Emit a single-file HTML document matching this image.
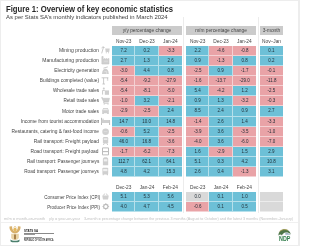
<!DOCTYPE html>
<html><head><meta charset="utf-8">
<style>
html,body{margin:0;padding:0;}
body{will-change:transform;width:300px;height:246px;overflow:hidden;background:#fff;position:relative;font-family:"Liberation Sans",sans-serif;color:#3a3a3a;}
.a{position:absolute;}
.t{position:absolute;white-space:nowrap;line-height:1;transform-origin:0 0;}
.c{position:absolute;box-sizing:border-box;}
.n{position:absolute;white-space:nowrap;line-height:1;font-size:4.9px;color:#1e2a33;text-align:center;transform:scaleX(.92);}
.lbl{position:absolute;white-space:nowrap;font-size:5.3px;line-height:1;color:#444;transform-origin:100% 0;}
.hd{position:absolute;font-size:4.8px;line-height:1;color:#444;text-align:center;white-space:nowrap;}
</style></head><body>

<div class="a" style="left:0;top:0;width:297px;height:244px;border:1px solid #ededed;border-right-width:2px;"></div>
<div class="t" style="left:6.4px;top:5.66px;font-size:8.2px;font-weight:bold;color:#262626;transform:scaleX(0.9408);">Figure 1: Overview of key economic statistics</div>
<div class="t" style="left:6.4px;top:14.32px;font-size:6.0px;color:#404040;transform:scaleX(0.9903);">As per Stats SA’s monthly indicators published in March 2024</div>
<div class="a" style="left:183px;top:17px;width:1px;height:196px;background:#ececec;"></div>
<div class="a" style="left:258px;top:17px;width:1px;height:196px;background:#ececec;"></div>
<div class="a" style="left:112.0px;top:25.5px;width:69.99px;height:9.3px;background:#cbcbcb;"></div>
<div class="hd" style="left:112.0px;top:29.44px;width:69.99px;">y/y percentage change</div>
<div class="a" style="left:186.0px;top:25.5px;width:69.99px;height:9.3px;background:#cbcbcb;"></div>
<div class="hd" style="left:186.0px;top:29.44px;width:69.99px;">m/m percentage change</div>
<div class="a" style="left:260.0px;top:25.5px;width:23.00px;height:9.3px;background:#cbcbcb;"></div>
<div class="hd" style="left:260.0px;top:29.44px;width:23.00px;">3-month</div>
<div class="hd" style="left:112.00px;top:39.74px;width:23.33px;">Nov-23</div>
<div class="hd" style="left:186.00px;top:39.74px;width:23.33px;">Nov-23</div>
<div class="hd" style="left:135.33px;top:39.74px;width:23.33px;">Dec-23</div>
<div class="hd" style="left:209.33px;top:39.74px;width:23.33px;">Dec-23</div>
<div class="hd" style="left:158.66px;top:39.74px;width:23.33px;">Jan-24</div>
<div class="hd" style="left:232.66px;top:39.74px;width:23.33px;">Jan-24</div>
<div class="hd" style="left:260.0px;top:39.74px;width:23.0px;">Nov–Jan</div>
<div class="lbl" style="right:201.20px;top:47.71px;font-size:5.3px;transform:scaleX(0.9514);">Mining production</div>
<svg class="a" style="left:101px;top:46px" width="10" height="10" viewBox="0 0 10 10" stroke="#bcbcbc" stroke-width=".8" stroke-linejoin="round"><path d="M0.7 7.4 L2.5 1.0" fill="none"/><path d="M0.6 1.9 Q1.9 -0.1 3.6 1.5" fill="none"/><path d="M4.2 2.6 H8.7 L8.2 6 H4.7 Z" fill="#cfcfcf" stroke="none"/><circle cx="5.3" cy="6.7" r=".55" fill="#c0c0c0" stroke="none"/><circle cx="7.6" cy="6.7" r=".55" fill="#c0c0c0" stroke="none"/></svg>
<div class="c" style="left:112.00px;top:46.00px;width:23.33px;height:10.00px;background:#6dc0d7;border-bottom:1px solid rgba(255,255,255,.5);border-right:1px solid rgba(255,255,255,.5);"></div>
<div class="n" style="left:112.00px;top:48.90px;width:23.33px;">7.2</div>
<div class="c" style="left:135.33px;top:46.00px;width:23.33px;height:10.00px;background:#6dc0d7;border-bottom:1px solid rgba(255,255,255,.5);border-right:1px solid rgba(255,255,255,.5);"></div>
<div class="n" style="left:135.33px;top:48.90px;width:23.33px;">0.2</div>
<div class="c" style="left:158.66px;top:46.00px;width:23.33px;height:10.00px;background:#e9a3a7;border-bottom:1px solid rgba(255,255,255,.5);"></div>
<div class="n" style="left:158.66px;top:48.90px;width:23.33px;">-3.3</div>
<div class="c" style="left:186.00px;top:46.00px;width:23.33px;height:10.00px;background:#6dc0d7;border-bottom:1px solid rgba(255,255,255,.5);border-right:1px solid rgba(255,255,255,.5);"></div>
<div class="n" style="left:186.00px;top:48.90px;width:23.33px;">2.2</div>
<div class="c" style="left:209.33px;top:46.00px;width:23.33px;height:10.00px;background:#e9a3a7;border-bottom:1px solid rgba(255,255,255,.5);border-right:1px solid rgba(255,255,255,.5);"></div>
<div class="n" style="left:209.33px;top:48.90px;width:23.33px;">-4.6</div>
<div class="c" style="left:232.66px;top:46.00px;width:23.33px;height:10.00px;background:#e9a3a7;border-bottom:1px solid rgba(255,255,255,.5);"></div>
<div class="n" style="left:232.66px;top:48.90px;width:23.33px;">-0.8</div>
<div class="c" style="left:260.00px;top:46.00px;width:23.00px;height:10.00px;background:#6dc0d7;border-bottom:1px solid rgba(255,255,255,.5);"></div>
<div class="n" style="left:260.00px;top:48.90px;width:23.00px;">0.1</div>
<div class="lbl" style="right:201.20px;top:57.85px;font-size:5.3px;transform:scaleX(0.9448);">Manufacturing production</div>
<svg class="a" style="left:101px;top:56px" width="10" height="10" viewBox="0 0 10 10" stroke="#bcbcbc" stroke-width=".8" stroke-linejoin="round"><path d="M0.9 8 V0.5 H2.1 V3.6 L4 2.4 V3.6 L5.9 2.4 V3.6 L7.9 2.4 V8 Z" fill="#d0d0d0" stroke="#c2c2c2" stroke-width=".6"/><path d="M3 5.2 H7" stroke="#e6e6e6" stroke-width=".6"/></svg>
<div class="c" style="left:112.00px;top:56.00px;width:23.33px;height:10.00px;background:#6dc0d7;border-bottom:1px solid rgba(255,255,255,.5);border-right:1px solid rgba(255,255,255,.5);"></div>
<div class="n" style="left:112.00px;top:58.90px;width:23.33px;">2.7</div>
<div class="c" style="left:135.33px;top:56.00px;width:23.33px;height:10.00px;background:#6dc0d7;border-bottom:1px solid rgba(255,255,255,.5);border-right:1px solid rgba(255,255,255,.5);"></div>
<div class="n" style="left:135.33px;top:58.90px;width:23.33px;">1.3</div>
<div class="c" style="left:158.66px;top:56.00px;width:23.33px;height:10.00px;background:#6dc0d7;border-bottom:1px solid rgba(255,255,255,.5);"></div>
<div class="n" style="left:158.66px;top:58.90px;width:23.33px;">2.6</div>
<div class="c" style="left:186.00px;top:56.00px;width:23.33px;height:10.00px;background:#6dc0d7;border-bottom:1px solid rgba(255,255,255,.5);border-right:1px solid rgba(255,255,255,.5);"></div>
<div class="n" style="left:186.00px;top:58.90px;width:23.33px;">0.9</div>
<div class="c" style="left:209.33px;top:56.00px;width:23.33px;height:10.00px;background:#e9a3a7;border-bottom:1px solid rgba(255,255,255,.5);border-right:1px solid rgba(255,255,255,.5);"></div>
<div class="n" style="left:209.33px;top:58.90px;width:23.33px;">-1.3</div>
<div class="c" style="left:232.66px;top:56.00px;width:23.33px;height:10.00px;background:#6dc0d7;border-bottom:1px solid rgba(255,255,255,.5);"></div>
<div class="n" style="left:232.66px;top:58.90px;width:23.33px;">0.8</div>
<div class="c" style="left:260.00px;top:56.00px;width:23.00px;height:10.00px;background:#6dc0d7;border-bottom:1px solid rgba(255,255,255,.5);"></div>
<div class="n" style="left:260.00px;top:58.90px;width:23.00px;">0.2</div>
<div class="lbl" style="right:201.20px;top:67.99px;font-size:5.3px;transform:scaleX(0.9127);">Electricity generation</div>
<svg class="a" style="left:101px;top:66px" width="10" height="10" viewBox="0 0 10 10" stroke="#bcbcbc" stroke-width=".8" stroke-linejoin="round"><path d="M1 8 C1.2 4.4 2.6 2.8 4.4 2.8 C6.2 2.8 7.6 4.4 7.8 8 Z" fill="#cfcfcf" stroke="none"/><path d="M2.4 2.2 L6.8 0.9" fill="none"/><path d="M3.4 5.6 H5.6 V8" stroke="#e8e8e8" stroke-width=".7" fill="none"/></svg>
<div class="c" style="left:112.00px;top:66.00px;width:23.33px;height:10.00px;background:#e9a3a7;border-bottom:1px solid rgba(255,255,255,.5);border-right:1px solid rgba(255,255,255,.5);"></div>
<div class="n" style="left:112.00px;top:68.90px;width:23.33px;">-3.0</div>
<div class="c" style="left:135.33px;top:66.00px;width:23.33px;height:10.00px;background:#6dc0d7;border-bottom:1px solid rgba(255,255,255,.5);border-right:1px solid rgba(255,255,255,.5);"></div>
<div class="n" style="left:135.33px;top:68.90px;width:23.33px;">4.4</div>
<div class="c" style="left:158.66px;top:66.00px;width:23.33px;height:10.00px;background:#6dc0d7;border-bottom:1px solid rgba(255,255,255,.5);"></div>
<div class="n" style="left:158.66px;top:68.90px;width:23.33px;">0.8</div>
<div class="c" style="left:186.00px;top:66.00px;width:23.33px;height:10.00px;background:#e9a3a7;border-bottom:1px solid rgba(255,255,255,.5);border-right:1px solid rgba(255,255,255,.5);"></div>
<div class="n" style="left:186.00px;top:68.90px;width:23.33px;">-2.5</div>
<div class="c" style="left:209.33px;top:66.00px;width:23.33px;height:10.00px;background:#6dc0d7;border-bottom:1px solid rgba(255,255,255,.5);border-right:1px solid rgba(255,255,255,.5);"></div>
<div class="n" style="left:209.33px;top:68.90px;width:23.33px;">0.9</div>
<div class="c" style="left:232.66px;top:66.00px;width:23.33px;height:10.00px;background:#e9a3a7;border-bottom:1px solid rgba(255,255,255,.5);"></div>
<div class="n" style="left:232.66px;top:68.90px;width:23.33px;">-1.7</div>
<div class="c" style="left:260.00px;top:66.00px;width:23.00px;height:10.00px;background:#e9a3a7;border-bottom:1px solid rgba(255,255,255,.5);"></div>
<div class="n" style="left:260.00px;top:68.90px;width:23.00px;">-0.1</div>
<div class="lbl" style="right:201.20px;top:78.13px;font-size:5.3px;transform:scaleX(0.9109);">Buildings completed (value)</div>
<svg class="a" style="left:101px;top:76px" width="10" height="10" viewBox="0 0 10 10" stroke="#bcbcbc" stroke-width=".8" stroke-linejoin="round"><path d="M0.6 1.8 H7.4 M2.6 1.8 V8 M6.6 1.8 V3.4 M1.4 8 H4" fill="none" stroke-width=".8"/><rect x="5.9" y="3.4" width="1.4" height="1.2" fill="#cfcfcf" stroke="none"/></svg>
<div class="c" style="left:112.00px;top:76.00px;width:23.33px;height:10.00px;background:#e9a3a7;border-bottom:1px solid rgba(255,255,255,.5);border-right:1px solid rgba(255,255,255,.5);"></div>
<div class="n" style="left:112.00px;top:78.90px;width:23.33px;">-5.4</div>
<div class="c" style="left:135.33px;top:76.00px;width:23.33px;height:10.00px;background:#e9a3a7;border-bottom:1px solid rgba(255,255,255,.5);border-right:1px solid rgba(255,255,255,.5);"></div>
<div class="n" style="left:135.33px;top:78.90px;width:23.33px;">-9.2</div>
<div class="c" style="left:158.66px;top:76.00px;width:23.33px;height:10.00px;background:#e9a3a7;border-bottom:1px solid rgba(255,255,255,.5);"></div>
<div class="n" style="left:158.66px;top:78.90px;width:23.33px;">-27.9</div>
<div class="c" style="left:186.00px;top:76.00px;width:23.33px;height:10.00px;background:#e9a3a7;border-bottom:1px solid rgba(255,255,255,.5);border-right:1px solid rgba(255,255,255,.5);"></div>
<div class="n" style="left:186.00px;top:78.90px;width:23.33px;">-1.6</div>
<div class="c" style="left:209.33px;top:76.00px;width:23.33px;height:10.00px;background:#e9a3a7;border-bottom:1px solid rgba(255,255,255,.5);border-right:1px solid rgba(255,255,255,.5);"></div>
<div class="n" style="left:209.33px;top:78.90px;width:23.33px;">-13.7</div>
<div class="c" style="left:232.66px;top:76.00px;width:23.33px;height:10.00px;background:#e9a3a7;border-bottom:1px solid rgba(255,255,255,.5);"></div>
<div class="n" style="left:232.66px;top:78.90px;width:23.33px;">-29.0</div>
<div class="c" style="left:260.00px;top:76.00px;width:23.00px;height:10.00px;background:#e9a3a7;border-bottom:1px solid rgba(255,255,255,.5);"></div>
<div class="n" style="left:260.00px;top:78.90px;width:23.00px;">-11.8</div>
<div class="lbl" style="right:201.20px;top:88.27px;font-size:5.3px;transform:scaleX(0.8861);">Wholesale trade sales</div>
<svg class="a" style="left:101px;top:86px" width="10" height="10" viewBox="0 0 10 10" stroke="#bcbcbc" stroke-width=".8" stroke-linejoin="round"><circle cx="2.8" cy="2.4" r="1" fill="#cccccc" stroke="none"/><path d="M1.6 8.6 V4.4 H3.8" fill="none"/><rect x="3.8" y="4.4" width="4.2" height="4.4" fill="#cfcfcf" stroke="none"/></svg>
<div class="c" style="left:112.00px;top:86.00px;width:23.33px;height:10.00px;background:#e9a3a7;border-bottom:1px solid rgba(255,255,255,.5);border-right:1px solid rgba(255,255,255,.5);"></div>
<div class="n" style="left:112.00px;top:88.90px;width:23.33px;">-5.4</div>
<div class="c" style="left:135.33px;top:86.00px;width:23.33px;height:10.00px;background:#e9a3a7;border-bottom:1px solid rgba(255,255,255,.5);border-right:1px solid rgba(255,255,255,.5);"></div>
<div class="n" style="left:135.33px;top:88.90px;width:23.33px;">-8.1</div>
<div class="c" style="left:158.66px;top:86.00px;width:23.33px;height:10.00px;background:#e9a3a7;border-bottom:1px solid rgba(255,255,255,.5);"></div>
<div class="n" style="left:158.66px;top:88.90px;width:23.33px;">-5.0</div>
<div class="c" style="left:186.00px;top:86.00px;width:23.33px;height:10.00px;background:#6dc0d7;border-bottom:1px solid rgba(255,255,255,.5);border-right:1px solid rgba(255,255,255,.5);"></div>
<div class="n" style="left:186.00px;top:88.90px;width:23.33px;">5.4</div>
<div class="c" style="left:209.33px;top:86.00px;width:23.33px;height:10.00px;background:#e9a3a7;border-bottom:1px solid rgba(255,255,255,.5);border-right:1px solid rgba(255,255,255,.5);"></div>
<div class="n" style="left:209.33px;top:88.90px;width:23.33px;">-4.2</div>
<div class="c" style="left:232.66px;top:86.00px;width:23.33px;height:10.00px;background:#6dc0d7;border-bottom:1px solid rgba(255,255,255,.5);"></div>
<div class="n" style="left:232.66px;top:88.90px;width:23.33px;">1.2</div>
<div class="c" style="left:260.00px;top:86.00px;width:23.00px;height:10.00px;background:#e9a3a7;border-bottom:1px solid rgba(255,255,255,.5);"></div>
<div class="n" style="left:260.00px;top:88.90px;width:23.00px;">-2.5</div>
<div class="lbl" style="right:201.20px;top:98.41px;font-size:5.3px;transform:scaleX(0.8670);">Retail trade sales</div>
<svg class="a" style="left:101px;top:96px" width="10" height="10" viewBox="0 0 10 10" stroke="#bcbcbc" stroke-width=".8" stroke-linejoin="round"><path d="M0.5 1.6 H1.5 L2.1 2.3 H8.5 L7.6 5.9 H2.8 Z" fill="#cfcfcf" stroke="#c2c2c2" stroke-width=".5"/><path d="M2.8 5.9 L2.8 7.2 H7.6" fill="none"/><circle cx="3.2" cy="8" r=".6" fill="#c0c0c0" stroke="none"/><circle cx="7" cy="8" r=".6" fill="#c0c0c0" stroke="none"/></svg>
<div class="c" style="left:112.00px;top:96.00px;width:23.33px;height:10.00px;background:#e9a3a7;border-bottom:1px solid rgba(255,255,255,.5);border-right:1px solid rgba(255,255,255,.5);"></div>
<div class="n" style="left:112.00px;top:98.90px;width:23.33px;">-1.0</div>
<div class="c" style="left:135.33px;top:96.00px;width:23.33px;height:10.00px;background:#6dc0d7;border-bottom:1px solid rgba(255,255,255,.5);border-right:1px solid rgba(255,255,255,.5);"></div>
<div class="n" style="left:135.33px;top:98.90px;width:23.33px;">3.2</div>
<div class="c" style="left:158.66px;top:96.00px;width:23.33px;height:10.00px;background:#e9a3a7;border-bottom:1px solid rgba(255,255,255,.5);"></div>
<div class="n" style="left:158.66px;top:98.90px;width:23.33px;">-2.1</div>
<div class="c" style="left:186.00px;top:96.00px;width:23.33px;height:10.00px;background:#6dc0d7;border-bottom:1px solid rgba(255,255,255,.5);border-right:1px solid rgba(255,255,255,.5);"></div>
<div class="n" style="left:186.00px;top:98.90px;width:23.33px;">0.9</div>
<div class="c" style="left:209.33px;top:96.00px;width:23.33px;height:10.00px;background:#6dc0d7;border-bottom:1px solid rgba(255,255,255,.5);border-right:1px solid rgba(255,255,255,.5);"></div>
<div class="n" style="left:209.33px;top:98.90px;width:23.33px;">1.3</div>
<div class="c" style="left:232.66px;top:96.00px;width:23.33px;height:10.00px;background:#e9a3a7;border-bottom:1px solid rgba(255,255,255,.5);"></div>
<div class="n" style="left:232.66px;top:98.90px;width:23.33px;">-3.2</div>
<div class="c" style="left:260.00px;top:96.00px;width:23.00px;height:10.00px;background:#e9a3a7;border-bottom:1px solid rgba(255,255,255,.5);"></div>
<div class="n" style="left:260.00px;top:98.90px;width:23.00px;">-0.3</div>
<div class="lbl" style="right:201.20px;top:108.55px;font-size:5.3px;transform:scaleX(0.9037);">Motor trade sales</div>
<svg class="a" style="left:101px;top:106px" width="10" height="10" viewBox="0 0 10 10" stroke="#bcbcbc" stroke-width=".8" stroke-linejoin="round"><path d="M1.2 7.2 V4.6 L2.2 2 H6.8 L7.8 4.6 V7.2 Z" fill="#cfcfcf" stroke="none"/><path d="M2.6 2.8 H6.4 L7 4.2 H2 Z" fill="#ececec" stroke="none"/><rect x="1.4" y="7" width="1.3" height="1" fill="#c4c4c4" stroke="none"/><rect x="6.3" y="7" width="1.3" height="1" fill="#c4c4c4" stroke="none"/></svg>
<div class="c" style="left:112.00px;top:106.00px;width:23.33px;height:11.00px;background:#e9a3a7;border-bottom:1px solid rgba(255,255,255,.5);border-right:1px solid rgba(255,255,255,.5);"></div>
<div class="n" style="left:112.00px;top:108.90px;width:23.33px;">-2.9</div>
<div class="c" style="left:135.33px;top:106.00px;width:23.33px;height:11.00px;background:#e9a3a7;border-bottom:1px solid rgba(255,255,255,.5);border-right:1px solid rgba(255,255,255,.5);"></div>
<div class="n" style="left:135.33px;top:108.90px;width:23.33px;">-2.5</div>
<div class="c" style="left:158.66px;top:106.00px;width:23.33px;height:11.00px;background:#6dc0d7;border-bottom:1px solid rgba(255,255,255,.5);"></div>
<div class="n" style="left:158.66px;top:108.90px;width:23.33px;">2.4</div>
<div class="c" style="left:186.00px;top:106.00px;width:23.33px;height:11.00px;background:#6dc0d7;border-bottom:1px solid rgba(255,255,255,.5);border-right:1px solid rgba(255,255,255,.5);"></div>
<div class="n" style="left:186.00px;top:108.90px;width:23.33px;">8.5</div>
<div class="c" style="left:209.33px;top:106.00px;width:23.33px;height:11.00px;background:#6dc0d7;border-bottom:1px solid rgba(255,255,255,.5);border-right:1px solid rgba(255,255,255,.5);"></div>
<div class="n" style="left:209.33px;top:108.90px;width:23.33px;">2.4</div>
<div class="c" style="left:232.66px;top:106.00px;width:23.33px;height:11.00px;background:#6dc0d7;border-bottom:1px solid rgba(255,255,255,.5);"></div>
<div class="n" style="left:232.66px;top:108.90px;width:23.33px;">0.9</div>
<div class="c" style="left:260.00px;top:106.00px;width:23.00px;height:11.00px;background:#6dc0d7;border-bottom:1px solid rgba(255,255,255,.5);"></div>
<div class="n" style="left:260.00px;top:108.90px;width:23.00px;">2.7</div>
<div class="lbl" style="right:201.20px;top:118.69px;font-size:5.3px;transform:scaleX(0.9331);">Income from tourist accommodation</div>
<svg class="a" style="left:101px;top:117px" width="10" height="10" viewBox="0 0 10 10" stroke="#bcbcbc" stroke-width=".8" stroke-linejoin="round"><path d="M0.5 0.8 V8 M8.6 3 V8" fill="none" stroke-width="1"/><rect x="0.5" y="3" width="8.1" height="3" fill="#cfcfcf" stroke="none"/><circle cx="2" cy="2.2" r=".8" fill="#cccccc" stroke="none"/></svg>
<div class="c" style="left:112.00px;top:117.00px;width:23.33px;height:10.00px;background:#6dc0d7;border-bottom:1px solid rgba(255,255,255,.5);border-right:1px solid rgba(255,255,255,.5);"></div>
<div class="n" style="left:112.00px;top:119.90px;width:23.33px;">14.7</div>
<div class="c" style="left:135.33px;top:117.00px;width:23.33px;height:10.00px;background:#6dc0d7;border-bottom:1px solid rgba(255,255,255,.5);border-right:1px solid rgba(255,255,255,.5);"></div>
<div class="n" style="left:135.33px;top:119.90px;width:23.33px;">10.0</div>
<div class="c" style="left:158.66px;top:117.00px;width:23.33px;height:10.00px;background:#6dc0d7;border-bottom:1px solid rgba(255,255,255,.5);"></div>
<div class="n" style="left:158.66px;top:119.90px;width:23.33px;">14.8</div>
<div class="c" style="left:186.00px;top:117.00px;width:23.33px;height:10.00px;background:#e9a3a7;border-bottom:1px solid rgba(255,255,255,.5);border-right:1px solid rgba(255,255,255,.5);"></div>
<div class="n" style="left:186.00px;top:119.90px;width:23.33px;">-1.4</div>
<div class="c" style="left:209.33px;top:117.00px;width:23.33px;height:10.00px;background:#6dc0d7;border-bottom:1px solid rgba(255,255,255,.5);border-right:1px solid rgba(255,255,255,.5);"></div>
<div class="n" style="left:209.33px;top:119.90px;width:23.33px;">2.6</div>
<div class="c" style="left:232.66px;top:117.00px;width:23.33px;height:10.00px;background:#6dc0d7;border-bottom:1px solid rgba(255,255,255,.5);"></div>
<div class="n" style="left:232.66px;top:119.90px;width:23.33px;">1.4</div>
<div class="c" style="left:260.00px;top:117.00px;width:23.00px;height:10.00px;background:#e9a3a7;border-bottom:1px solid rgba(255,255,255,.5);"></div>
<div class="n" style="left:260.00px;top:119.90px;width:23.00px;">-3.3</div>
<div class="lbl" style="right:201.20px;top:128.83px;font-size:5.3px;transform:scaleX(0.9112);">Restaurants, catering &amp; fast-food income</div>
<svg class="a" style="left:101px;top:127px" width="10" height="10" viewBox="0 0 10 10" stroke="#bcbcbc" stroke-width=".8" stroke-linejoin="round"><circle cx="4.6" cy="4.7" r="3.3" fill="#d0d0d0" stroke="none"/><path d="M2.8 4.6 H6.4" stroke="#e4e4e4" stroke-width=".6"/></svg>
<div class="c" style="left:112.00px;top:127.00px;width:23.33px;height:10.00px;background:#e9a3a7;border-bottom:1px solid rgba(255,255,255,.5);border-right:1px solid rgba(255,255,255,.5);"></div>
<div class="n" style="left:112.00px;top:129.90px;width:23.33px;">-0.6</div>
<div class="c" style="left:135.33px;top:127.00px;width:23.33px;height:10.00px;background:#6dc0d7;border-bottom:1px solid rgba(255,255,255,.5);border-right:1px solid rgba(255,255,255,.5);"></div>
<div class="n" style="left:135.33px;top:129.90px;width:23.33px;">5.2</div>
<div class="c" style="left:158.66px;top:127.00px;width:23.33px;height:10.00px;background:#e9a3a7;border-bottom:1px solid rgba(255,255,255,.5);"></div>
<div class="n" style="left:158.66px;top:129.90px;width:23.33px;">-2.5</div>
<div class="c" style="left:186.00px;top:127.00px;width:23.33px;height:10.00px;background:#e9a3a7;border-bottom:1px solid rgba(255,255,255,.5);border-right:1px solid rgba(255,255,255,.5);"></div>
<div class="n" style="left:186.00px;top:129.90px;width:23.33px;">-3.9</div>
<div class="c" style="left:209.33px;top:127.00px;width:23.33px;height:10.00px;background:#6dc0d7;border-bottom:1px solid rgba(255,255,255,.5);border-right:1px solid rgba(255,255,255,.5);"></div>
<div class="n" style="left:209.33px;top:129.90px;width:23.33px;">3.6</div>
<div class="c" style="left:232.66px;top:127.00px;width:23.33px;height:10.00px;background:#e9a3a7;border-bottom:1px solid rgba(255,255,255,.5);"></div>
<div class="n" style="left:232.66px;top:129.90px;width:23.33px;">-3.5</div>
<div class="c" style="left:260.00px;top:127.00px;width:23.00px;height:10.00px;background:#e9a3a7;border-bottom:1px solid rgba(255,255,255,.5);"></div>
<div class="n" style="left:260.00px;top:129.90px;width:23.00px;">-1.0</div>
<div class="lbl" style="right:201.20px;top:138.97px;font-size:5.3px;transform:scaleX(0.9198);">Rail transport: Freight payload</div>
<svg class="a" style="left:101px;top:137px" width="10" height="10" viewBox="0 0 10 10" stroke="#bcbcbc" stroke-width=".8" stroke-linejoin="round"><rect x="1.9" y="0.1" width="5.3" height="6.4" rx="1.2" fill="#cfcfcf" stroke="none"/><rect x="2.7" y="1.2" width="3.7" height="1.8" fill="#ececec" stroke="none"/><path d="M2.4 8 L3.2 6.4 M6.7 8 L5.9 6.4" fill="none"/></svg>
<div class="c" style="left:112.00px;top:137.00px;width:23.33px;height:10.00px;background:#6dc0d7;border-bottom:1px solid rgba(255,255,255,.5);border-right:1px solid rgba(255,255,255,.5);"></div>
<div class="n" style="left:112.00px;top:139.90px;width:23.33px;">46.0</div>
<div class="c" style="left:135.33px;top:137.00px;width:23.33px;height:10.00px;background:#6dc0d7;border-bottom:1px solid rgba(255,255,255,.5);border-right:1px solid rgba(255,255,255,.5);"></div>
<div class="n" style="left:135.33px;top:139.90px;width:23.33px;">16.8</div>
<div class="c" style="left:158.66px;top:137.00px;width:23.33px;height:10.00px;background:#e9a3a7;border-bottom:1px solid rgba(255,255,255,.5);"></div>
<div class="n" style="left:158.66px;top:139.90px;width:23.33px;">-3.6</div>
<div class="c" style="left:186.00px;top:137.00px;width:23.33px;height:10.00px;background:#e9a3a7;border-bottom:1px solid rgba(255,255,255,.5);border-right:1px solid rgba(255,255,255,.5);"></div>
<div class="n" style="left:186.00px;top:139.90px;width:23.33px;">-4.0</div>
<div class="c" style="left:209.33px;top:137.00px;width:23.33px;height:10.00px;background:#6dc0d7;border-bottom:1px solid rgba(255,255,255,.5);border-right:1px solid rgba(255,255,255,.5);"></div>
<div class="n" style="left:209.33px;top:139.90px;width:23.33px;">3.6</div>
<div class="c" style="left:232.66px;top:137.00px;width:23.33px;height:10.00px;background:#e9a3a7;border-bottom:1px solid rgba(255,255,255,.5);"></div>
<div class="n" style="left:232.66px;top:139.90px;width:23.33px;">-6.0</div>
<div class="c" style="left:260.00px;top:137.00px;width:23.00px;height:10.00px;background:#e9a3a7;border-bottom:1px solid rgba(255,255,255,.5);"></div>
<div class="n" style="left:260.00px;top:139.90px;width:23.00px;">-7.0</div>
<div class="lbl" style="right:201.20px;top:149.11px;font-size:5.3px;transform:scaleX(0.9137);">Road transport: Freight payload</div>
<svg class="a" style="left:101px;top:147px" width="10" height="10" viewBox="0 0 10 10" stroke="#bcbcbc" stroke-width=".8" stroke-linejoin="round"><rect x="1.5" y="0.9" width="6" height="7" fill="none" stroke-width="1"/><path d="M1.5 4.6 H7.5" stroke-width="1.1"/></svg>
<div class="c" style="left:112.00px;top:147.00px;width:23.33px;height:10.00px;background:#e9a3a7;border-bottom:1px solid rgba(255,255,255,.5);border-right:1px solid rgba(255,255,255,.5);"></div>
<div class="n" style="left:112.00px;top:149.90px;width:23.33px;">-1.7</div>
<div class="c" style="left:135.33px;top:147.00px;width:23.33px;height:10.00px;background:#e9a3a7;border-bottom:1px solid rgba(255,255,255,.5);border-right:1px solid rgba(255,255,255,.5);"></div>
<div class="n" style="left:135.33px;top:149.90px;width:23.33px;">-6.2</div>
<div class="c" style="left:158.66px;top:147.00px;width:23.33px;height:10.00px;background:#e9a3a7;border-bottom:1px solid rgba(255,255,255,.5);"></div>
<div class="n" style="left:158.66px;top:149.90px;width:23.33px;">-7.3</div>
<div class="c" style="left:186.00px;top:147.00px;width:23.33px;height:10.00px;background:#6dc0d7;border-bottom:1px solid rgba(255,255,255,.5);border-right:1px solid rgba(255,255,255,.5);"></div>
<div class="n" style="left:186.00px;top:149.90px;width:23.33px;">1.6</div>
<div class="c" style="left:209.33px;top:147.00px;width:23.33px;height:10.00px;background:#e9a3a7;border-bottom:1px solid rgba(255,255,255,.5);border-right:1px solid rgba(255,255,255,.5);"></div>
<div class="n" style="left:209.33px;top:149.90px;width:23.33px;">-2.9</div>
<div class="c" style="left:232.66px;top:147.00px;width:23.33px;height:10.00px;background:#6dc0d7;border-bottom:1px solid rgba(255,255,255,.5);"></div>
<div class="n" style="left:232.66px;top:149.90px;width:23.33px;">1.5</div>
<div class="c" style="left:260.00px;top:147.00px;width:23.00px;height:10.00px;background:#6dc0d7;border-bottom:1px solid rgba(255,255,255,.5);"></div>
<div class="n" style="left:260.00px;top:149.90px;width:23.00px;">2.9</div>
<div class="lbl" style="right:201.20px;top:159.25px;font-size:5.3px;transform:scaleX(0.8905);">Rail transport: Passenger journeys</div>
<svg class="a" style="left:101px;top:157px" width="10" height="10" viewBox="0 0 10 10" stroke="#bcbcbc" stroke-width=".8" stroke-linejoin="round"><path d="M1.9 8.2 V2 C1.9 0.8 3 0.2 4.55 0.2 C6.1 0.2 7.2 0.8 7.2 2 V8.2 Z" fill="#cfcfcf" stroke="none"/><rect x="2.8" y="2.2" width="3.5" height="2.2" fill="#f0f0f0" stroke="none"/></svg>
<div class="c" style="left:112.00px;top:157.00px;width:23.33px;height:10.00px;background:#6dc0d7;border-bottom:1px solid rgba(255,255,255,.5);border-right:1px solid rgba(255,255,255,.5);"></div>
<div class="n" style="left:112.00px;top:159.90px;width:23.33px;">112.7</div>
<div class="c" style="left:135.33px;top:157.00px;width:23.33px;height:10.00px;background:#6dc0d7;border-bottom:1px solid rgba(255,255,255,.5);border-right:1px solid rgba(255,255,255,.5);"></div>
<div class="n" style="left:135.33px;top:159.90px;width:23.33px;">62.1</div>
<div class="c" style="left:158.66px;top:157.00px;width:23.33px;height:10.00px;background:#6dc0d7;border-bottom:1px solid rgba(255,255,255,.5);"></div>
<div class="n" style="left:158.66px;top:159.90px;width:23.33px;">64.1</div>
<div class="c" style="left:186.00px;top:157.00px;width:23.33px;height:10.00px;background:#6dc0d7;border-bottom:1px solid rgba(255,255,255,.5);border-right:1px solid rgba(255,255,255,.5);"></div>
<div class="n" style="left:186.00px;top:159.90px;width:23.33px;">5.1</div>
<div class="c" style="left:209.33px;top:157.00px;width:23.33px;height:10.00px;background:#6dc0d7;border-bottom:1px solid rgba(255,255,255,.5);border-right:1px solid rgba(255,255,255,.5);"></div>
<div class="n" style="left:209.33px;top:159.90px;width:23.33px;">0.3</div>
<div class="c" style="left:232.66px;top:157.00px;width:23.33px;height:10.00px;background:#6dc0d7;border-bottom:1px solid rgba(255,255,255,.5);"></div>
<div class="n" style="left:232.66px;top:159.90px;width:23.33px;">4.2</div>
<div class="c" style="left:260.00px;top:157.00px;width:23.00px;height:10.00px;background:#6dc0d7;border-bottom:1px solid rgba(255,255,255,.5);"></div>
<div class="n" style="left:260.00px;top:159.90px;width:23.00px;">10.8</div>
<div class="lbl" style="right:201.20px;top:169.39px;font-size:5.3px;transform:scaleX(0.8793);">Road transport: Passenger journeys</div>
<svg class="a" style="left:101px;top:167px" width="10" height="10" viewBox="0 0 10 10" stroke="#bcbcbc" stroke-width=".8" stroke-linejoin="round"><rect x="1.4" y="0.8" width="5.8" height="6.6" rx=".8" fill="#cfcfcf" stroke="none"/><rect x="2.2" y="2" width="4.2" height="2.2" fill="#f0f0f0" stroke="none"/><rect x="1.6" y="7.2" width="1.2" height="1" fill="#c4c4c4" stroke="none"/><rect x="5.8" y="7.2" width="1.2" height="1" fill="#c4c4c4" stroke="none"/></svg>
<div class="c" style="left:112.00px;top:167.00px;width:23.33px;height:10.00px;background:#6dc0d7;border-bottom:1px solid rgba(255,255,255,.5);border-right:1px solid rgba(255,255,255,.5);"></div>
<div class="n" style="left:112.00px;top:169.90px;width:23.33px;">4.8</div>
<div class="c" style="left:135.33px;top:167.00px;width:23.33px;height:10.00px;background:#6dc0d7;border-bottom:1px solid rgba(255,255,255,.5);border-right:1px solid rgba(255,255,255,.5);"></div>
<div class="n" style="left:135.33px;top:169.90px;width:23.33px;">4.2</div>
<div class="c" style="left:158.66px;top:167.00px;width:23.33px;height:10.00px;background:#6dc0d7;border-bottom:1px solid rgba(255,255,255,.5);"></div>
<div class="n" style="left:158.66px;top:169.90px;width:23.33px;">15.3</div>
<div class="c" style="left:186.00px;top:167.00px;width:23.33px;height:10.00px;background:#6dc0d7;border-bottom:1px solid rgba(255,255,255,.5);border-right:1px solid rgba(255,255,255,.5);"></div>
<div class="n" style="left:186.00px;top:169.90px;width:23.33px;">2.6</div>
<div class="c" style="left:209.33px;top:167.00px;width:23.33px;height:10.00px;background:#6dc0d7;border-bottom:1px solid rgba(255,255,255,.5);border-right:1px solid rgba(255,255,255,.5);"></div>
<div class="n" style="left:209.33px;top:169.90px;width:23.33px;">0.4</div>
<div class="c" style="left:232.66px;top:167.00px;width:23.33px;height:10.00px;background:#e9a3a7;border-bottom:1px solid rgba(255,255,255,.5);"></div>
<div class="n" style="left:232.66px;top:169.90px;width:23.33px;">-1.3</div>
<div class="c" style="left:260.00px;top:167.00px;width:23.00px;height:10.00px;background:#6dc0d7;border-bottom:1px solid rgba(255,255,255,.5);"></div>
<div class="n" style="left:260.00px;top:169.90px;width:23.00px;">3.1</div>
<div class="hd" style="left:112.00px;top:185.74px;width:23.33px;">Dec-23</div>
<div class="hd" style="left:186.00px;top:185.74px;width:23.33px;">Dec-23</div>
<div class="hd" style="left:135.33px;top:185.74px;width:23.33px;">Jan-24</div>
<div class="hd" style="left:209.33px;top:185.74px;width:23.33px;">Jan-24</div>
<div class="hd" style="left:158.66px;top:185.74px;width:23.33px;">Feb-24</div>
<div class="hd" style="left:232.66px;top:185.74px;width:23.33px;">Feb-24</div>
<div class="lbl" style="right:200.20px;top:194.91px;font-size:5.3px;transform:scaleX(0.8466);">Consumer Price Index (CPI)</div>
<svg class="a" style="left:101px;top:192px" width="10" height="10" viewBox="0 0 10 10" stroke="#bcbcbc" stroke-width=".8" stroke-linejoin="round"><path d="M1.2 3.4 H7.8 L7 7.6 H2 Z" fill="#d0d0d0" stroke="none"/><path d="M2.6 3.4 L3.6 1.6 M6.4 3.4 L5.4 1.6" fill="none"/></svg>
<div class="c" style="left:112.00px;top:192.00px;width:23.33px;height:10.00px;background:#6dc0d7;border-bottom:1px solid rgba(255,255,255,.5);border-right:1px solid rgba(255,255,255,.5);"></div>
<div class="n" style="left:112.00px;top:194.90px;width:23.33px;">5.1</div>
<div class="c" style="left:135.33px;top:192.00px;width:23.33px;height:10.00px;background:#6dc0d7;border-bottom:1px solid rgba(255,255,255,.5);border-right:1px solid rgba(255,255,255,.5);"></div>
<div class="n" style="left:135.33px;top:194.90px;width:23.33px;">5.3</div>
<div class="c" style="left:158.66px;top:192.00px;width:23.33px;height:10.00px;background:#6dc0d7;border-bottom:1px solid rgba(255,255,255,.5);"></div>
<div class="n" style="left:158.66px;top:194.90px;width:23.33px;">5.6</div>
<div class="c" style="left:186.00px;top:192.00px;width:23.33px;height:10.00px;background:#d9d9d9;border-bottom:1px solid rgba(255,255,255,.5);border-right:1px solid rgba(255,255,255,.5);"></div>
<div class="n" style="left:186.00px;top:194.90px;width:23.33px;">0.0</div>
<div class="c" style="left:209.33px;top:192.00px;width:23.33px;height:10.00px;background:#6dc0d7;border-bottom:1px solid rgba(255,255,255,.5);border-right:1px solid rgba(255,255,255,.5);"></div>
<div class="n" style="left:209.33px;top:194.90px;width:23.33px;">0.1</div>
<div class="c" style="left:232.66px;top:192.00px;width:23.33px;height:10.00px;background:#6dc0d7;border-bottom:1px solid rgba(255,255,255,.5);"></div>
<div class="n" style="left:232.66px;top:194.90px;width:23.33px;">1.0</div>
<div class="c" style="left:260.00px;top:192.00px;width:23.00px;height:10.00px;background:#d9d9d9;border-bottom:1px solid rgba(255,255,255,.5);"></div>
<div class="lbl" style="right:200.20px;top:205.05px;font-size:5.3px;transform:scaleX(0.8392);">Producer Price Index (PPI)</div>
<svg class="a" style="left:101px;top:202px" width="10" height="10" viewBox="0 0 10 10" stroke="#bcbcbc" stroke-width=".8" stroke-linejoin="round"><circle cx="4.8" cy="4.5" r="2.2" fill="none" stroke-width="1.2"/><path d="M4.8 1.2 V2.2 M4.8 6.8 V7.8 M1.5 4.5 H2.5 M7.1 4.5 H8.1 M2.5 2.2 L3.1 2.8 M6.5 6.2 L7.1 6.8 M7.1 2.2 L6.5 2.8 M3.1 6.2 L2.5 6.8" fill="none" stroke-width=".9"/></svg>
<div class="c" style="left:112.00px;top:202.00px;width:23.33px;height:10.00px;background:#6dc0d7;border-bottom:1px solid rgba(255,255,255,.5);border-right:1px solid rgba(255,255,255,.5);"></div>
<div class="n" style="left:112.00px;top:204.90px;width:23.33px;">4.0</div>
<div class="c" style="left:135.33px;top:202.00px;width:23.33px;height:10.00px;background:#6dc0d7;border-bottom:1px solid rgba(255,255,255,.5);border-right:1px solid rgba(255,255,255,.5);"></div>
<div class="n" style="left:135.33px;top:204.90px;width:23.33px;">4.7</div>
<div class="c" style="left:158.66px;top:202.00px;width:23.33px;height:10.00px;background:#6dc0d7;border-bottom:1px solid rgba(255,255,255,.5);"></div>
<div class="n" style="left:158.66px;top:204.90px;width:23.33px;">4.5</div>
<div class="c" style="left:186.00px;top:202.00px;width:23.33px;height:10.00px;background:#e9a3a7;border-bottom:1px solid rgba(255,255,255,.5);border-right:1px solid rgba(255,255,255,.5);"></div>
<div class="n" style="left:186.00px;top:204.90px;width:23.33px;">-0.6</div>
<div class="c" style="left:209.33px;top:202.00px;width:23.33px;height:10.00px;background:#6dc0d7;border-bottom:1px solid rgba(255,255,255,.5);border-right:1px solid rgba(255,255,255,.5);"></div>
<div class="n" style="left:209.33px;top:204.90px;width:23.33px;">0.1</div>
<div class="c" style="left:232.66px;top:202.00px;width:23.33px;height:10.00px;background:#6dc0d7;border-bottom:1px solid rgba(255,255,255,.5);"></div>
<div class="n" style="left:232.66px;top:204.90px;width:23.33px;">0.5</div>
<div class="c" style="left:260.00px;top:202.00px;width:23.00px;height:10.00px;background:#d9d9d9;border-bottom:1px solid rgba(255,255,255,.5);"></div>
<div class="t" style="left:3.6px;top:218.17px;font-size:3.7px;color:#c2c2c2;transform:scaleX(1.07);">m/m = month-on-month</div>
<div class="t" style="left:49px;top:218.17px;font-size:3.7px;color:#c2c2c2;transform:scaleX(1.04);">y/y = year-on-year</div>
<div class="t" style="left:84px;top:218.17px;font-size:3.7px;color:#c2c2c2;">3-month = percentage change between the previous 3 months (August to October) and the latest 3 months (November-January)</div>
<div class="a" style="left:1px;top:222px;width:297px;height:1px;background:#f0f0f0;"></div>
<svg class="a" style="left:7.4px;top:223px" width="16" height="21" viewBox="0 0 16 21">
<path d="M2.5 3.4 C2.2 6.9 4.2 9.8 8 10.5 C11.8 9.8 13.8 6.9 13.5 3.4 L10.9 3.2 C11.1 5.8 10.1 7.7 8 8.3 C5.9 7.7 4.9 5.8 5.1 3.2 Z" fill="#d8b06a"/>
<circle cx="8" cy="6.5" r="1.7" fill="#e2b85e"/>
<path d="M6.6 4.6 L8 3.4 L9.4 4.6" fill="none" stroke="#d9b36a" stroke-width=".8"/>
<path d="M4.2 10.8 H11.8 V14.4 C11.8 16 10.2 16.8 8 17 C5.8 16.8 4.2 16 4.2 14.4 Z" fill="#e8d3a6"/>
<path d="M7 11.4 H9 V15.8 C9 16.2 8.6 16.4 8 16.4 C7.4 16.4 7 16.2 7 15.8 Z" fill="#a8814a"/>
<path d="M3.4 16.4 C5 18.2 11 18.2 12.6 16.4 L12.4 18.4 C10.6 19.6 5.4 19.6 3.6 18.4 Z" fill="#4a7f6c"/>
</svg>
<div class="t" style="left:24.2px;top:230.2px;font-size:3.5px;font-weight:bold;color:#222;transform:scaleX(0.84);">STATS SA</div>
<div class="a" style="left:24.2px;top:232.9px;width:29.4px;height:0.6px;background:#8a8a8a;"></div>
<div class="a" style="left:24.2px;top:234.4px;width:10.5px;height:0.9px;background:#999;"></div>
<div class="a" style="left:24.2px;top:236.6px;width:18px;height:0.9px;background:#999;"></div>
<div class="t" style="left:24.2px;top:240.3px;font-size:2.7px;font-weight:bold;color:#333;transform:scaleX(0.75);">REPUBLIC OF SOUTH AFRICA</div>
<svg class="a" style="left:277px;top:228px" width="15" height="14" viewBox="0 0 15 14">
<circle cx="7.2" cy="6.8" r="6.6" fill="#fafafa"/>
<path d="M1.4 7.4 C1.6 3.4 4.6 1.2 7.8 1.3 C10.8 1.4 13.2 3.4 13.8 6.4 C12.4 5 10.8 4.4 8.8 4.6 C6.8 4.8 5.6 6 5 7.4 C4 6.2 2.6 6.4 1.4 7.4 Z" fill="#4d7548"/>
<path d="M2.6 3.6 C4.4 1.6 8 1 10.8 2.2" fill="none" stroke="#b8a24a" stroke-width=".7"/>
<path d="M8.2 5.2 C10.4 4.8 12.4 5.4 13.6 6.8 C11.8 6.6 10.2 6.6 8.4 6.8 Z" fill="#9fb3c4"/>
</svg>
<div class="t" style="left:278.8px;top:235.9px;font-size:6.4px;font-weight:bold;color:#2f7d4a;transform:scaleX(0.84);">NDP</div>
</body></html>
